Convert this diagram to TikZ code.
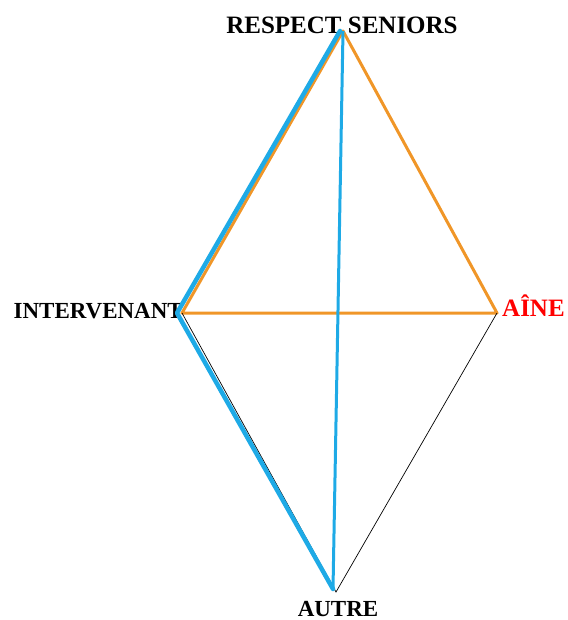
\documentclass[tikz,border=0pt]{standalone}
\usepackage{fontspec}
\setmainfont{Liberation Serif}
\definecolor{lineorange}{RGB}{240,150,40}
\definecolor{lineblue}{RGB}{30,170,230}
\begin{document}
\begin{tikzpicture}[x=1pt,y=-1pt,
  lbl/.style={font=\fontsize{23}{25}\selectfont\bfseries, inner sep=0pt},
  biglbl/.style={lbl, font=\fontsize{25}{27}\selectfont\bfseries},
  orangeedge/.style={lineorange, line width=3pt, line join=round},
  thinedge/.style={black, line width=0.7pt},
  blueedge/.style={lineblue, line width=4.5pt, line cap=round, line join=round}]
\useasboundingbox (0,0) rectangle (567,620);
% vertices
\coordinate (top) at (343,31);
\coordinate (left) at (182,313);
\coordinate (right) at (497,313);
\coordinate (bottom) at (336,592);
% offset anchors for the blue strokes
\coordinate (topb) at (340,31);
\coordinate (leftb) at (177,313);
\coordinate (bottomb) at (333,589);
% labels
\node[biglbl, anchor=base] (tl) at (342,34) {RESPECT SENIORS};
\node[lbl, anchor=base east] (ll) at (183,318) {INTERVENANT};
\node[biglbl, anchor=base west, red] (rl) at (502,316) {AÎNE};
\node[lbl, anchor=base] (bl) at (338,616) {AUTRE};
% orange triangle
\draw[orangeedge] (top) -- (left) -- (right) -- cycle;
% thin edges to the bottom vertex
\draw[thinedge] (left) -- (bottom) -- (right);
% blue edges
\draw[blueedge] (topb) -- (leftb) -- (bottomb);
\draw[lineblue, line width=3pt] (top) -- (bottomb);
\end{tikzpicture}
\end{document}
